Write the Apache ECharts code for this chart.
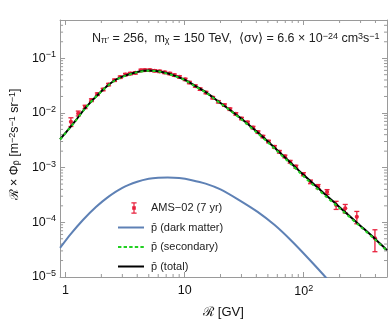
<!DOCTYPE html>
<html>
<head>
<meta charset="utf-8">
<script src="https://cdn.jsdelivr.net/npm/echarts@6/dist/echarts.min.js"></script>
<style>
html, body { margin: 0; padding: 0; background: #fff; }
#chart { width: 390px; height: 325px; }
</style>
</head>
<body>
<div id="chart"></div>
<script>
// AMS-02 (7 yr) points: rigidity [GV], R x flux, error
const amsR = [1.11, 1.28, 1.46, 1.65, 1.85, 2.07, 2.3, 2.58, 2.88, 3.19, 3.51, 3.86, 4.3, 4.64, 5.1, 5.6, 6.17, 6.8, 7.5, 8.2,
    9.05, 10.1, 10.96, 12.3, 13.5, 15.1, 17.2, 19.2, 21.6, 24, 26.9, 30, 33.7, 37.5, 41.3, 45.4, 50.6, 56.7, 62.4, 69.5,
    76.9, 85.9, 99.3, 114, 132, 157, 187, 223, 279, 396];
const amsFlux = [6.9e-3, 9.8e-3, 1.29e-2, 1.71e-2, 2.2e-2, 2.68e-2, 3.3e-2, 3.96e-2, 4.5e-2, 5.03e-2, 5.25e-2, 5.4e-2, 6.0e-2, 6.05e-2, 6.05e-2, 5.9e-2, 5.75e-2, 5.5e-2, 5.25e-2, 4.9e-2,
    4.55e-2, 4.1e-2, 3.6e-2, 3.1e-2, 2.72e-2, 2.36e-2, 1.9e-2, 1.6e-2, 1.39e-2, 1.17e-2, 9.6e-3, 7.9e-3, 6.7e-3, 5.4e-3, 4.45e-3, 3.7e-3, 3.0e-3, 2.4e-3, 1.95e-3, 1.6e-3,
    1.28e-3, 1.04e-3, 7.6e-4, 5.5e-4, 4.5e-4, 3.6e-4, 2.07e-4, 1.8e-4, 1.26e-4, 5.1e-5];
const amsErr = [1.25e-3, 1.0e-3, 9e-4, 1.0e-3, 1.2e-3, 1.4e-3, 1.7e-3, 2.0e-3, 2.3e-3, 2.5e-3, 2.6e-3, 2.7e-3, 3.0e-3, 3.0e-3, 3.0e-3, 2.9e-3, 2.8e-3, 2.7e-3, 2.6e-3, 2.4e-3,
    2.2e-3, 2.0e-3, 1.8e-3, 1.5e-3, 1.35e-3, 1.2e-3, 9.5e-4, 8e-4, 7e-4, 6e-4, 4.8e-4, 4e-4, 3.4e-4, 2.8e-4, 2.3e-4, 1.9e-4, 1.6e-4, 1.3e-4, 1.1e-4, 9e-5,
    7.5e-5, 6.5e-5, 5e-5, 4.2e-5, 4e-5, 3.6e-5, 3.5e-5, 3.2e-5, 3.2e-5, 2.2e-5];

// model curves
const curveR = [0.9, 1, 1.2, 1.5, 2, 2.5, 3, 4, 5, 6, 7, 8, 10, 12, 15, 20, 25, 30, 40, 50, 60, 80, 100, 150, 200, 300, 400, 500];
const totalFlux = [3.3e-3, 4.3e-3, 7.0e-3, 1.3e-2, 2.5e-2, 3.75e-2, 4.6e-2, 5.6e-2, 5.95e-2, 5.8e-2, 5.35e-2, 4.9e-2, 4.05e-2, 3.2e-2, 2.4e-2, 1.52e-2, 1.06e-2, 7.8e-3, 4.6e-3, 3.0e-3, 2.07e-3, 1.15e-3, 7.3e-4, 3.3e-4, 1.89e-4, 8.6e-5, 4.9e-5, 3.1e-5];
const secondaryFlux = [3.27e-3, 4.26e-3, 6.93e-3, 1.29e-2, 2.47e-2, 3.71e-2, 4.55e-2, 5.54e-2, 5.89e-2, 5.74e-2, 5.29e-2, 4.84e-2, 4.0e-2, 3.15e-2, 2.36e-2, 1.49e-2, 1.04e-2, 7.6e-3, 4.45e-3, 2.9e-3, 1.99e-3, 1.1e-3, 6.9e-4, 3.1e-4, 1.8e-4, 8.3e-5, 4.75e-5, 3.0e-5];
const dmR = [0.9, 1.1, 1.4, 1.8, 2.3, 3, 4, 5, 6, 7.2, 9, 11.5, 15, 20, 28, 41, 57, 78, 107, 152, 180];
const dmFlux = [3.4e-5, 6.0e-5, 1.1e-4, 1.9e-4, 2.95e-4, 4.27e-4, 5.5e-4, 6.24e-4, 6.53e-4, 6.6e-4, 6.45e-4, 5.9e-4, 5.1e-4, 4.0e-4, 2.63e-4, 1.55e-4, 8.9e-5, 4.7e-5, 2.3e-5, 1.0e-5, 6.3e-6];

const xMinorTicks = [2, 3, 4, 5, 6, 7, 8, 9, 20, 30, 40, 50, 60, 70, 80, 90, 200, 300, 400];
const yMinorTicks = [2e-5, 3e-5, 4e-5, 5e-5, 6e-5, 7e-5, 8e-5, 9e-5, 2e-4, 3e-4, 4e-4, 5e-4, 6e-4, 7e-4, 8e-4, 9e-4,
    2e-3, 3e-3, 4e-3, 5e-3, 6e-3, 7e-3, 8e-3, 9e-3, 2e-2, 3e-2, 4e-2, 5e-2, 6e-2, 7e-2, 8e-2, 9e-2, 2e-1, 3e-1, 4e-1];

const xMin = 0.9, xMax = 500, yMin = 1e-5, yMax = 0.5;
const frameColor = '#9a9a9a';
const red = '#e8203c';
const font = 'Liberation Sans, Arial, sans-serif';

const pairs = (xs, ys) => xs.map((x, i) => [x, ys[i]]);

const powLabel = (v, plainUpTo) => {
    const k = Math.round(Math.log10(v));
    if (Math.abs(v - Math.pow(10, k)) / v > 1e-6) return '';
    if (k >= 0 && k <= plainUpTo) return String(Math.pow(10, k));
    return '{b|10}{s|' + String(k).replace('-', '\u2212') + '}';
};
const supRich = {
    b: { fontSize: 12.5, lineHeight: 16, fontFamily: font, color: '#111' },
    s: { fontSize: 9, lineHeight: 9, verticalAlign: 'top', fontFamily: font, color: '#111' }
};

const errRender = (params, api) => {
    const r = api.value(0);
    const c = api.coord([r, api.value(1)]);
    const lo = api.coord([r, api.value(2)]);
    const hi = api.coord([r, api.value(3)]);
    const st = { stroke: red, lineWidth: 1.3 };
    return {
        type: 'group',
        children: [
            { type: 'line', shape: { x1: c[0], y1: lo[1], x2: c[0], y2: hi[1] }, style: st },
            { type: 'line', shape: { x1: c[0] - 2.5, y1: lo[1], x2: c[0] + 2.5, y2: lo[1] }, style: st },
            { type: 'line', shape: { x1: c[0] - 2.5, y1: hi[1], x2: c[0] + 2.5, y2: hi[1] }, style: st },
            { type: 'circle', shape: { cx: c[0], cy: c[1], r: 2.1 }, style: { fill: red } }
        ]
    };
};

const xTickRender = (params, api) => {
    const cs = params.coordSys;
    const x = api.coord([api.value(0), api.value(1)])[0];
    const st = { stroke: frameColor, lineWidth: 1 };
    return {
        type: 'group',
        children: [
            { type: 'line', shape: { x1: x, y1: cs.y + cs.height, x2: x, y2: cs.y + cs.height - 3 }, style: st },
            { type: 'line', shape: { x1: x, y1: cs.y, x2: x, y2: cs.y + 3 }, style: st }
        ]
    };
};
const yTickRender = (params, api) => {
    const cs = params.coordSys;
    const y = api.coord([api.value(0), api.value(1)])[1];
    const st = { stroke: frameColor, lineWidth: 1 };
    return {
        type: 'group',
        children: [
            { type: 'line', shape: { x1: cs.x, y1: y, x2: cs.x + 3, y2: y }, style: st },
            { type: 'line', shape: { x1: cs.x + cs.width, y1: y, x2: cs.x + cs.width - 3, y2: y }, style: st }
        ]
    };
};

const baseAxis = {
    type: 'log',
    logBase: 10,
    axisLine: { show: true, lineStyle: { color: frameColor, width: 1 } },
    axisTick: { show: true, inside: true, length: 5, lineStyle: { color: frameColor } },
    splitLine: { show: false },
    minorTick: { show: false },
    minorSplitLine: { show: false }
};

const lineIcon = 'path://M0,0M26,12M0,5h26v2h-26z';
const dashIcon = 'path://M0,0M26,12M0,5h3.4v2h-3.4zM5.6,5h3.4v2h-3.4zM11.2,5h3.4v2h-3.4zM16.8,5h3.4v2h-3.4zM22.4,5h3.4v2h-3.4z';

const chart = echarts.init(document.getElementById('chart'));
const option = {
    animation: false,
    backgroundColor: '#fff',
    textStyle: { fontFamily: font },
    title: {
        text: 'N{sub|\u03c0\u2032} = 256,  m{sub|\u03c7} = 150 TeV,  \u27e8\u03c3v\u27e9 = 6.6 \u00d7 10{sup|\u221224} cm{sup|3}s{sup|\u22121}',
        left: 87,
        top: 27,
        textStyle: {
            fontSize: 12.5, fontWeight: 'normal', color: '#222', fontFamily: font,
            rich: {
                sub: { fontSize: 9, lineHeight: 9, verticalAlign: 'bottom', color: '#222', fontFamily: font },
                sup: { fontSize: 9, lineHeight: 9, verticalAlign: 'top', color: '#222', fontFamily: font }
            }
        }
    },
    legend: {
        orient: 'vertical',
        left: 113,
        top: 197,
        itemWidth: 26,
        itemHeight: 12,
        itemGap: 7.5,
        itemStyle: { borderWidth: 0 },
        textStyle: { fontSize: 11, color: '#222', fontFamily: font, padding: [0, 0, 0, 2] },
        data: [
            { name: 'AMS\u221202 (7 yr)', icon: 'path://M0,0M26,12M13.4,0.3h5.2v1.2h-2v9h2v1.2h-5.2v-1.2h2v-9h-2zM14.2,4.2h3.6v3.6h-3.6z' },
            { name: 'p\u0304 (dark matter)', icon: lineIcon },
            { name: 'p\u0304 (secondary)', icon: dashIcon },
            { name: 'p\u0304 (total)', icon: lineIcon }
        ]
    },
    grid: { left: 57, right: 3, top: 20, bottom: 48, containLabel: false },
    xAxis: [
        Object.assign({}, baseAxis, {
            position: 'bottom', min: xMin, max: xMax,
            name: '\u211b [GV]', nameLocation: 'middle', nameGap: 29,
            nameTextStyle: { fontSize: 13, color: '#111', fontFamily: font },
            axisLabel: { margin: 7, formatter: v => powLabel(v, 1), rich: supRich, fontSize: 12.5, color: '#111' }
        }),
        Object.assign({}, baseAxis, {
            position: 'top', min: xMin, max: xMax, axisLabel: { show: false }
        })
    ],
    yAxis: [
        Object.assign({}, baseAxis, {
            position: 'left', min: yMin, max: yMax,
            name: '\u211b \u00d7 \u03a6{sub|p\u0304} [m{sup|\u22122}s{sup|\u22121} sr{sup|\u22121}]',
            nameLocation: 'middle', nameRotate: 90, nameGap: 38,
            nameTextStyle: {
                fontSize: 12.5, color: '#111', fontFamily: font, padding: [0, 0, 0, 8],
                rich: {
                    sub: { fontSize: 9, lineHeight: 9, verticalAlign: 'bottom', color: '#111', fontFamily: font },
                    sup: { fontSize: 9, lineHeight: 9, verticalAlign: 'top', color: '#111', fontFamily: font }
                }
            },
            axisLabel: { margin: 4, formatter: v => powLabel(v, -1), rich: supRich, fontSize: 12.5, color: '#111' }
        }),
        Object.assign({}, baseAxis, {
            position: 'right', min: yMin, max: yMax, axisLabel: { show: false }
        })
    ],
    series: [
        {
            type: 'custom', name: 'xminor', silent: true, xAxisIndex: 0, yAxisIndex: 0,
            renderItem: xTickRender, data: xMinorTicks.map(v => [v, yMin])
        },
        {
            type: 'custom', name: 'yminor', silent: true, xAxisIndex: 0, yAxisIndex: 0,
            renderItem: yTickRender, data: yMinorTicks.map(v => [xMin, v])
        },
        {
            type: 'line', name: 'p\u0304 (dark matter)', data: pairs(dmR, dmFlux),
            showSymbol: false, symbol: 'none', smooth: 0.2, clip: true,
            lineStyle: { color: '#5e81b5', width: 2 }, itemStyle: { color: '#5e81b5' }
        },
        {
            type: 'line', name: 'p\u0304 (total)', data: pairs(curveR, totalFlux),
            showSymbol: false, symbol: 'none', smooth: 0.3, clip: true,
            lineStyle: { color: '#000', width: 2 }, itemStyle: { color: '#000' }
        },
        {
            type: 'line', name: 'p\u0304 (secondary)', data: pairs(curveR, secondaryFlux),
            showSymbol: false, symbol: 'none', smooth: 0.3, clip: true,
            lineStyle: { color: '#22d022', width: 2, type: [3, 3] }, itemStyle: { color: '#22d022' }
        },
        {
            type: 'custom', name: 'AMS\u221202 (7 yr)', xAxisIndex: 0, yAxisIndex: 0,
            renderItem: errRender, itemStyle: { color: red },
            encode: { x: 0, y: 1 },
            data: amsR.map((r, i) => [r, amsFlux[i], amsFlux[i] - amsErr[i], amsFlux[i] + amsErr[i]])
        }
    ]
};
chart.setOption(option);
</script>
</body>
</html>
